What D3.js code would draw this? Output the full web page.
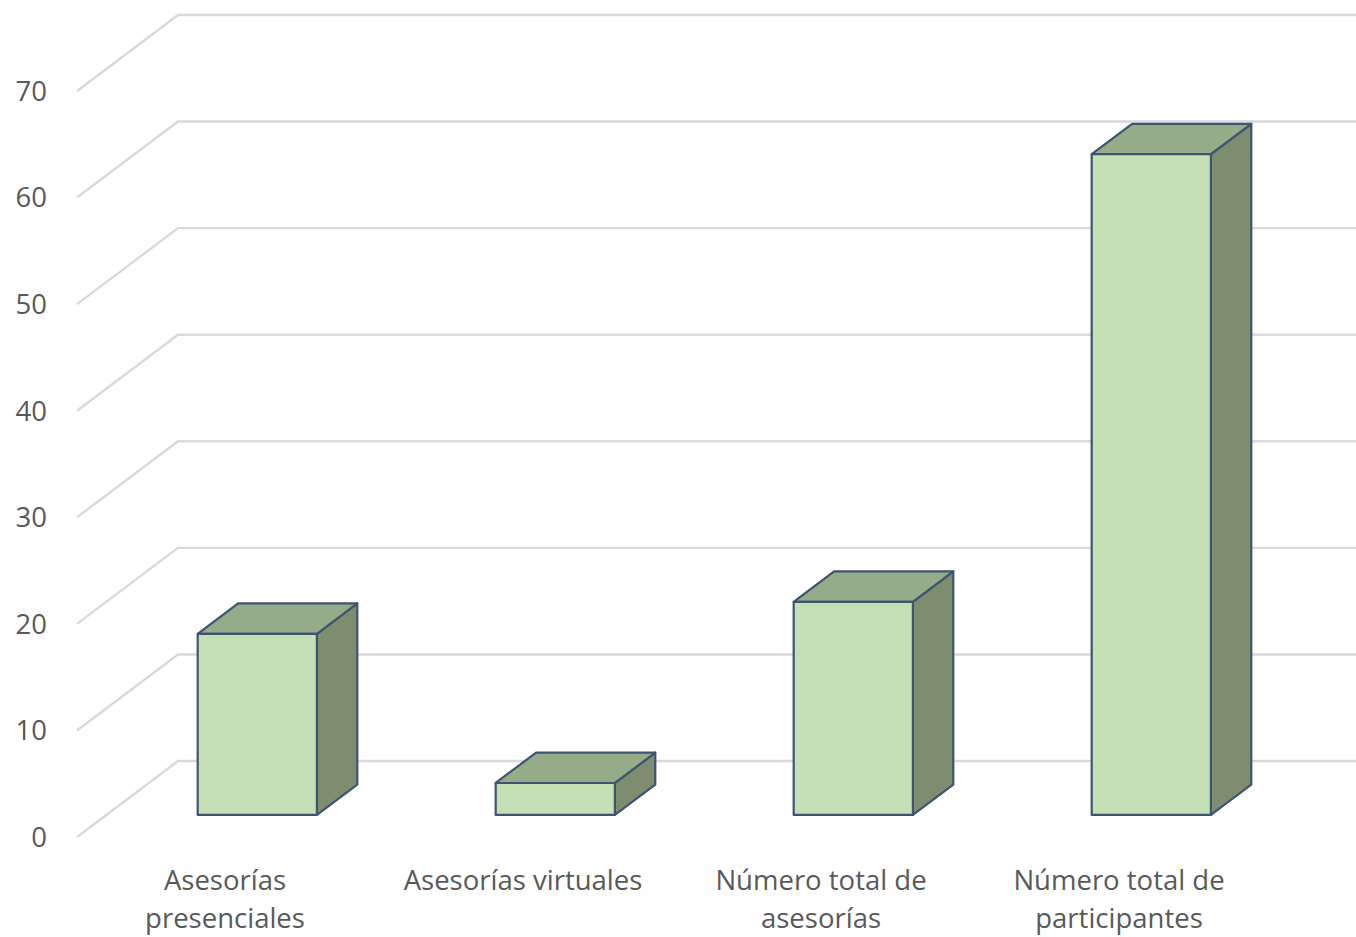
<!DOCTYPE html>
<html><head><meta charset="utf-8">
<script src="https://cdn.jsdelivr.net/npm/d3@7"></script>
<style>body{margin:0;background:#fff}svg{display:block}</style>
</head><body>
<script>
const categories = [["Asesorías","presenciales"],["Asesorías virtuales"],["Número total de","asesorías"],["Número total de","participantes"]];
const values = [17, 3, 20, 62];
const tickValues = [0,10,20,30,40,50,60,70];

const W = 1356, H = 937;
const svg = d3.select("body").append("svg").attr("width", W).attr("height", H);

const y = d3.scaleLinear().domain([0,70]).range([837,91]);
const x = d3.scaleBand().domain(d3.range(categories.length)).range([79,1271]).padding(0);
const depthX = 101, depthY = -76;      // full floor depth
const barZ0 = 0.29, barZ1 = 0.69;      // bar depth fraction
const barW = 0.4;

// gridlines
const grid = svg.append("g");
tickValues.forEach(t => {
  const yf = y(t);
  grid.append("path")
    .attr("d", `M77,${yf}L${77+depthX},${yf+depthY}L${W},${yf+depthY}`)
    .attr("fill","none").attr("stroke","#d9d9d9").attr("stroke-width",2.4);
});

// tick labels
svg.append("g").selectAll("text").data(tickValues).join("text")
  .attr("x",47).attr("y",d=>y(d)).attr("dy","0.36em")
  .attr("text-anchor","end")
  .attr("font-family","'Open Sans', sans-serif").attr("font-size",27.5)
  .attr("fill","#595959").text(d=>d);

// bars
const bars = svg.append("g");
values.forEach((v,i) => {
  const c = x(i) + x.bandwidth()/2;
  const bw = x.bandwidth()*barW;
  const ox = barZ0*depthX, oy = barZ0*depthY;
  const dx = (barZ1-barZ0)*depthX, dy = (barZ1-barZ0)*depthY;
  const x0 = c - bw/2 + ox, x1 = c + bw/2 + ox;
  const yb = y(0) + oy, yt = y(v) + oy;
  const g = bars.append("g").attr("stroke","#3d5473").attr("stroke-width",2.2).attr("stroke-linejoin","round");
  g.append("path").attr("d",`M${x1},${yb}L${x1+dx},${yb+dy}L${x1+dx},${yt+dy}L${x1},${yt}Z`).attr("fill","#7e8d70");
  g.append("path").attr("d",`M${x0},${yt}L${x0+dx},${yt+dy}L${x1+dx},${yt+dy}L${x1},${yt}Z`).attr("fill","#96ab87");
  g.append("rect").attr("x",x0).attr("y",yt).attr("width",bw).attr("height",yb-yt).attr("fill","#c5e0b4");
});

// category labels
const lab = svg.append("g").attr("font-family","'Open Sans', sans-serif").attr("font-size",27.5).attr("fill","#595959").attr("text-anchor","middle");
categories.forEach((lines,i) => {
  const c = x(i) + x.bandwidth()/2 - 3;
  const t = lab.append("text").attr("x",c).attr("y",890);
  lines.forEach((l,j)=> t.append("tspan").attr("x",c).attr("y",890 + j*38).text(l));
});
</script>
</body></html>
